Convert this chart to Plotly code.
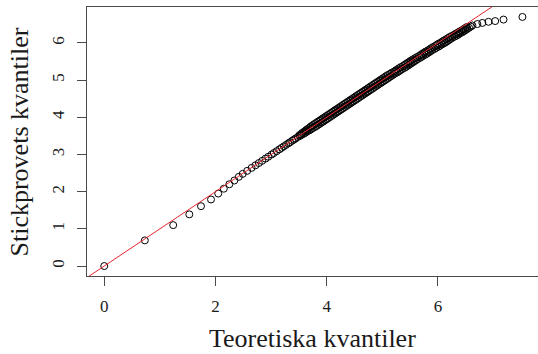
import plotly.graph_objects as go

# Theoretical quantiles (x) and sample quantiles (y)
theor_low = [0.00, 0.73, 1.24, 1.53, 1.74, 1.92, 2.05, 2.15, 2.25, 2.34, 2.42]
sample_low = [0.00, 0.69, 1.10, 1.39, 1.61, 1.79, 1.95, 2.08, 2.20, 2.30, 2.40]

theor_mid = [2.49, 2.57, 2.65, 2.72, 2.78, 2.84, 2.90, 2.95, 3.01, 3.05, 3.10,
             3.15, 3.19, 3.23, 3.27, 3.31, 3.34, 3.38, 3.41, 3.44, 3.48]
sample_mid = [2.48, 2.56, 2.64, 2.71, 2.77, 2.83, 2.89, 2.94, 3.00, 3.04, 3.09,
              3.14, 3.18, 3.22, 3.26, 3.30, 3.33, 3.37, 3.40, 3.43, 3.47]

theor_dense = [
    3.52, 3.55, 3.59, 3.62, 3.65, 3.69, 3.72, 3.75, 3.79, 3.82,
    3.85, 3.88, 3.91, 3.94, 3.97, 4.00, 4.03, 4.06, 4.09, 4.12,
    4.15, 4.18, 4.21, 4.24, 4.27, 4.30, 4.33, 4.36, 4.39, 4.42,
    4.45, 4.48, 4.51, 4.54, 4.57, 4.60, 4.63, 4.66, 4.69, 4.72,
    4.75, 4.78, 4.81, 4.84, 4.87, 4.90, 4.93, 4.96, 4.99, 5.02,
    5.05, 5.08, 5.11, 5.14, 5.17, 5.20, 5.23,
    5.27, 5.30, 5.33, 5.36, 5.40, 5.43, 5.46, 5.49, 5.52, 5.55, 5.58, 5.61, 5.64,
    5.68, 5.71, 5.74, 5.78, 5.81, 5.84, 5.87, 5.90, 5.94, 5.97,
    6.01, 6.04, 6.07, 6.11, 6.14, 6.17, 6.20, 6.23, 6.26, 6.30,
    6.34, 6.37, 6.40, 6.44, 6.47, 6.50, 6.53, 6.56, 6.59]
sample_dense = [
    3.50, 3.53, 3.56, 3.59, 3.62, 3.65, 3.68, 3.71, 3.74, 3.77,
    3.80, 3.83, 3.86, 3.89, 3.92, 3.95, 3.98, 4.01, 4.04, 4.07,
    4.10, 4.13, 4.16, 4.19, 4.22, 4.25, 4.28, 4.31, 4.34, 4.37,
    4.40, 4.43, 4.46, 4.49, 4.52, 4.55, 4.58, 4.61, 4.64, 4.67,
    4.70, 4.73, 4.76, 4.79, 4.82, 4.85, 4.88, 4.91, 4.94, 4.97,
    5.00, 5.03, 5.06, 5.09, 5.12, 5.15, 5.18,
    5.21, 5.24, 5.27, 5.30, 5.33, 5.36, 5.39, 5.42, 5.45, 5.48, 5.51, 5.54, 5.57,
    5.60, 5.63, 5.66, 5.69, 5.72, 5.75, 5.78, 5.81, 5.84, 5.87,
    5.90, 5.93, 5.96, 5.99, 6.02, 6.05, 6.08, 6.11, 6.14, 6.17,
    6.20, 6.23, 6.26, 6.29, 6.32, 6.35, 6.38, 6.41, 6.44]

theor_dense2 = [
    3.51, 3.54, 3.56, 3.59, 3.62, 3.64, 3.67, 3.70, 3.72, 3.75,
    3.78, 3.81, 3.84, 3.87, 3.90, 3.93, 3.96, 3.99, 4.02, 4.05,
    4.08, 4.11, 4.14, 4.17, 4.20, 4.23, 4.26, 4.29, 4.32, 4.35,
    4.38, 4.41, 4.44, 4.47, 4.50, 4.53, 4.56, 4.59, 4.62, 4.65,
    4.68, 4.71, 4.74, 4.77, 4.80, 4.83, 4.86, 4.89, 4.92, 4.95,
    4.98, 5.01, 5.04, 5.07, 5.10, 5.14,
    5.17, 5.21, 5.24, 5.27, 5.30, 5.33, 5.37, 5.40, 5.43, 5.46, 5.49, 5.52, 5.55, 5.59,
    5.62, 5.66, 5.69, 5.72, 5.75, 5.78, 5.82, 5.85, 5.88, 5.91,
    5.95, 5.98, 6.01, 6.05, 6.08, 6.11, 6.15, 6.18, 6.21, 6.25,
    6.29, 6.32, 6.36, 6.39, 6.43, 6.46, 6.49, 6.52]
sample_dense2 = [
    3.52, 3.55, 3.58, 3.61, 3.64, 3.67, 3.70, 3.73, 3.76, 3.79,
    3.82, 3.85, 3.88, 3.91, 3.94, 3.97, 4.00, 4.03, 4.06, 4.09,
    4.12, 4.15, 4.18, 4.21, 4.24, 4.27, 4.30, 4.33, 4.36, 4.39,
    4.42, 4.45, 4.48, 4.51, 4.54, 4.57, 4.60, 4.63, 4.66, 4.69,
    4.72, 4.75, 4.78, 4.81, 4.84, 4.87, 4.90, 4.93, 4.96, 4.99,
    5.02, 5.05, 5.08, 5.11, 5.14, 5.17,
    5.20, 5.23, 5.26, 5.29, 5.32, 5.35, 5.38, 5.41, 5.44, 5.47, 5.50, 5.53, 5.56, 5.59,
    5.62, 5.65, 5.68, 5.71, 5.74, 5.77, 5.80, 5.83, 5.86, 5.89,
    5.92, 5.95, 5.98, 6.01, 6.04, 6.07, 6.10, 6.13, 6.16, 6.19,
    6.22, 6.25, 6.28, 6.31, 6.34, 6.37, 6.40, 6.43]

theor_tail = [6.62, 6.71, 6.80, 6.91, 7.03, 7.18, 7.52]
sample_tail = [6.47, 6.51, 6.54, 6.57, 6.59, 6.63, 6.70]

x_ticks = [0, 2, 4, 6]
y_ticks = [0, 1, 2, 3, 4, 5, 6]

ref_intercept = 0.0
ref_slope = 1.0

x_title = "Teoretiska kvantiler"
y_title = "Stickprovets kvantiler"

theor = theor_low + theor_mid + theor_dense + theor_dense2 + theor_tail
sample = sample_low + sample_mid + sample_dense + sample_dense2 + sample_tail

x_range = [-0.31, 7.80]
y_range = [-0.268, 6.968]

FONT = "Liberation Serif"
AX = "#4a4a4a"
TXT = "#1a1a1a"

fig = go.Figure()
fig.add_trace(go.Scatter(
    x=theor, y=sample, mode="markers",
    marker=dict(symbol="circle-open", size=7, color="black",
                line=dict(width=1, color="black")),
    showlegend=False, hoverinfo="skip"))

lx = [x_range[0] - 1, x_range[1] + 1]
ly = [ref_intercept + ref_slope * v for v in lx]
fig.add_trace(go.Scatter(
    x=lx, y=ly, mode="lines", line=dict(color="#e8262b", width=1),
    showlegend=False, hoverinfo="skip"))

fig.update_layout(
    template="none",
    width=538, height=354,
    margin=dict(l=87, r=0, t=7, b=78),
    paper_bgcolor="white", plot_bgcolor="white",
    font=dict(family=FONT, color=TXT, size=17),
    xaxis=dict(range=x_range, tickvals=x_ticks, ticktext=[str(v) for v in x_ticks],
               showgrid=False, zeroline=False, showline=True, linecolor=AX,
               linewidth=1, mirror=True, ticks="outside", ticklen=9, tickcolor=AX,
               tickwidth=1, ticklabelstandoff=6,
               tickfont=dict(family=FONT, size=17, color=TXT)),
    yaxis=dict(range=y_range, tickvals=y_ticks, ticktext=[str(v) for v in y_ticks],
               showgrid=False, zeroline=False, showline=True, linecolor=AX,
               linewidth=1, ticks="outside", ticklen=9, tickcolor=AX,
               tickwidth=1, tickangle=-90, ticklabelstandoff=6,
               tickfont=dict(family=FONT, size=17, color=TXT)),
    annotations=[
        dict(text=x_title, xref="paper", yref="paper", x=0.5, y=-0.2305,
             xanchor="center", yanchor="middle", showarrow=False,
             font=dict(family=FONT, size=26, color=TXT)),
        dict(text=y_title, xref="paper", yref="paper", x=-0.1486, y=0.5,
             xanchor="center", yanchor="middle", showarrow=False, textangle=-90,
             font=dict(family=FONT, size=26, color=TXT)),
    ],
)

fig.write_html("out.html")
